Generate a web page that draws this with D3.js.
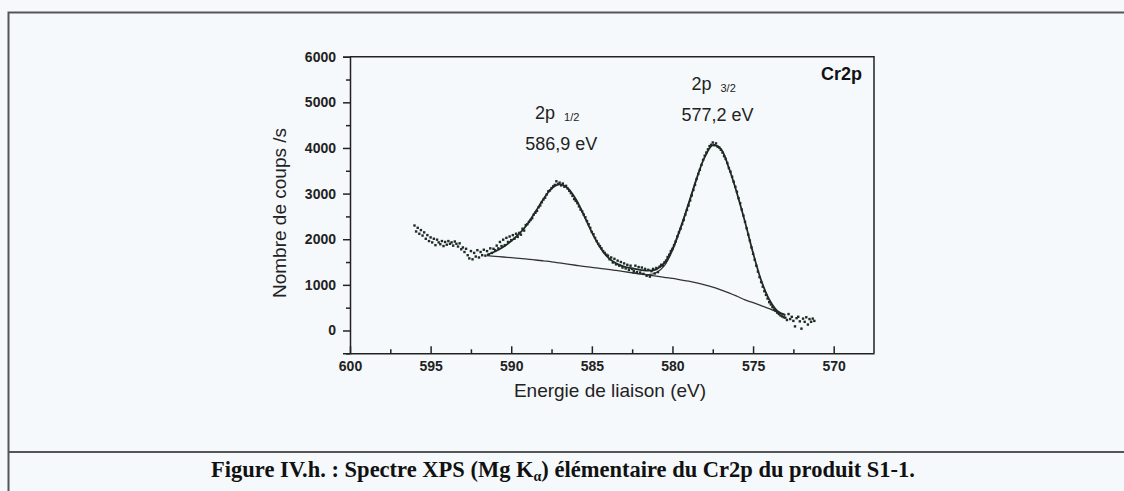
<!DOCTYPE html>
<html>
<head>
<meta charset="utf-8">
<script src="https://cdn.jsdelivr.net/npm/d3@7"></script>
<style>
  html, body { margin: 0; padding: 0; background: #f6f9fb; }
  svg { display: block; }
</style>
</head>
<body>
<svg id="fig" width="1124" height="491"></svg>
<script>
// Cr2p XPS spectrum: measured counts on a 0.1 eV grid from 596.0 eV down to 571.2 eV
const scanStart = 596.0;
const scanStep = 0.1;
const counts = [
  2300, 2170, 2250, 2120, 2200,
  2080, 2150, 2010, 2090, 1960,
  2040, 1930, 2010, 1870, 1990,
  1930, 1890, 1960, 1850, 1940,
  1880, 1960, 1900, 1930, 1860,
  1950, 1900, 1840, 1910, 1780,
  1820, 1720, 1790, 1650, 1580,
  1740, 1560, 1700, 1620, 1760,
  1600, 1720, 1650, 1770, 1640,
  1740, 1660, 1800, 1700, 1790,
  1760, 1860, 1800, 1940, 1850,
  1990, 1870, 2030, 1940, 2060,
  1980, 2090, 2010, 2120, 2050,
  2140, 2100, 2230, 2190, 2310,
  2330, 2380, 2420, 2460, 2540,
  2580, 2620, 2700, 2740, 2810,
  2870, 2910, 2980, 3050, 3070,
  3120, 3160, 3190, 3270, 3210,
  3240, 3180, 3220, 3150, 3170,
  3110, 3060, 3010, 2950, 2880,
  2840, 2790, 2720, 2650, 2610,
  2540, 2480, 2400, 2330, 2250,
  2160, 2110, 2030, 1960, 1900,
  1850, 1800, 1740, 1700, 1660,
  1640, 1560, 1600, 1490, 1570,
  1450, 1530, 1420, 1500, 1380,
  1470, 1360, 1440, 1330, 1420,
  1350, 1300, 1420, 1280, 1390,
  1270, 1380, 1240, 1350, 1200,
  1330, 1180, 1300, 1350, 1250,
  1370, 1280, 1400, 1440, 1420,
  1490, 1530, 1610, 1660, 1740,
  1790, 1870, 1950, 2060, 2150,
  2230, 2330, 2420, 2540, 2640,
  2740, 2850, 2960, 3080, 3190,
  3320, 3430, 3520, 3630, 3740,
  3830, 3900, 3970, 4040, 4070,
  4120, 4060, 4100, 4030, 4010,
  3960, 3900, 3820, 3760, 3670,
  3560, 3480, 3370, 3260, 3150,
  3040, 2900, 2790, 2650, 2520,
  2380, 2240, 2100, 1970, 1820,
  1680, 1550, 1420, 1290, 1170,
  1060, 960, 860, 780, 700,
  620, 570, 510, 460, 430,
  390, 360, 330, 310, 290,
  280, 230, 360, 250, 300,
  210, 90, 270, 300, 200,
  40, 260, 190, 290, 130,
  250, 190, 260, 210
];
const energy = counts.map((_, i) => +(scanStart - scanStep * i).toFixed(1));

// Fit curves on a 0.5 eV grid (591.5 -> 573.0 eV)
const fitEnergy = [591.5, 591.0, 590.5, 590.0, 589.5, 589.0, 588.5, 588.0, 587.5, 587.0,
  586.5, 586.0, 585.5, 585.0, 584.5, 584.0, 583.5, 583.0, 582.5, 582.0,
  581.5, 581.0, 580.5, 580.0, 579.5, 579.0, 578.5, 578.0, 577.5, 577.0,
  576.5, 576.0, 575.5, 575.0, 574.5, 574.0, 573.5, 573.0];
const envelope = [1660, 1730, 1830, 1960, 2120, 2330, 2600, 2880, 3110, 3200,
  3120, 2880, 2530, 2150, 1830, 1600, 1470, 1400, 1360, 1330,
  1310, 1340, 1480, 1790, 2250, 2780, 3330, 3800, 4060, 3980,
  3560, 3010, 2380, 1700, 1100, 680, 430, 340];
const background = [1640, 1625, 1610, 1595, 1580, 1565, 1545, 1525, 1505, 1480,
  1455, 1430, 1405, 1385, 1360, 1340, 1315, 1290, 1265, 1240,
  1215, 1190, 1165, 1140, 1110, 1080, 1045, 1000, 950, 890,
  825, 750, 670, 610, 545, 480, 405, 330];
// 2p3/2 component (on background) where it separates from the envelope
const compEnergy = [582.5, 582.0, 581.5, 581.0, 580.5, 580.0, 579.5, 579.0, 578.5];
const comp32 = [1265, 1240, 1225, 1265, 1420, 1750, 2230, 2770, 3320];

const yTicks = [0, 1000, 2000, 3000, 4000, 5000, 6000];
const yMinor = [-500, 500, 1500, 2500, 3500, 4500, 5500];
const xTicks = [600, 595, 590, 585, 580, 575, 570];
const xMinor = [597.5, 592.5, 587.5, 582.5, 577.5, 572.5];

const peakLabels = [
  { name: "2p", sub: "1/2", energy: "586,9 eV", at: 586.9, level: 3950 },
  { name: "2p", sub: "3/2", energy: "577,2 eV", at: 577.2, level: 4600 }
];

const ink = "#222";
const svg = d3.select("#fig");

// page frame around figure and caption
svg.append("path")
  .attr("d", "M8.5,491 V12.5 H1124")
  .attr("fill", "none").attr("stroke", "#555").attr("stroke-width", 2);
svg.append("line")
  .attr("x1", 8.5).attr("x2", 1124).attr("y1", 452).attr("y2", 452)
  .attr("stroke", "#555").attr("stroke-width", 2);

const plotL = 350, plotR = 874, plotT = 56.7, plotB = 353.3;
const x = d3.scaleLinear().domain([600, 567.5]).range([plotL, plotR]);
const y = d3.scaleLinear().domain([-500, 6000]).range([plotB, plotT]);

// plot box
svg.append("path")
  .attr("d", `M${plotL},${plotT} H${plotR} V${plotB}`)
  .attr("fill", "none").attr("stroke", ink).attr("stroke-width", 1.5);

// y axis: ticks outward
svg.append("g").attr("transform", `translate(${plotL},0)`)
  .call(d3.axisLeft(y).tickValues(yTicks).tickSize(7).tickPadding(7).tickFormat(d3.format("d")));
svg.append("g").attr("transform", `translate(${plotL},0)`)
  .call(d3.axisLeft(y).tickValues(yMinor).tickSize(4).tickFormat(""))
  .call(g => g.select(".domain").remove());

// x axis: ticks inward
svg.append("g").attr("transform", `translate(0,${plotB})`)
  .call(d3.axisBottom(x).tickValues(xTicks).tickSizeInner(-7).tickSizeOuter(0).tickPadding(8).tickFormat(d3.format("d")));
svg.append("g").attr("transform", `translate(0,${plotB})`)
  .call(d3.axisBottom(x).tickValues(xMinor).tickSizeInner(-4).tickSizeOuter(0).tickFormat(""))
  .call(g => g.select(".domain").remove());

svg.selectAll(".domain").attr("stroke", ink).attr("stroke-width", 1.5);
svg.selectAll(".tick line").attr("stroke", ink).attr("stroke-width", 1.5);
svg.selectAll(".tick text")
  .attr("fill", ink)
  .style("font-family", "'Liberation Sans', Arial, sans-serif")
  .style("font-size", "14px").style("font-weight", "bold");

// axis titles
svg.append("text")
  .attr("transform", `translate(286,${(plotT + plotB) / 2 + 8}) rotate(-90)`)
  .attr("text-anchor", "middle").attr("fill", ink)
  .style("font-family", "'Liberation Sans', Arial, sans-serif").style("font-size", "19px")
  .text("Nombre de coups /s");
svg.append("text")
  .attr("x", (plotL + plotR) / 2 - 2).attr("y", 397)
  .attr("text-anchor", "middle").attr("fill", ink)
  .style("font-family", "'Liberation Sans', Arial, sans-serif").style("font-size", "19px")
  .text("Energie de liaison (eV)");

// fitted curves
const fitLine = d3.line().curve(d3.curveCatmullRom)
  .x(d => x(d[0])).y(d => y(d[1]));
svg.append("path")
  .attr("d", fitLine(fitEnergy.map((e, i) => [e, background[i]])))
  .attr("fill", "none").attr("stroke", "#333").attr("stroke-width", 1.3);
svg.append("path")
  .attr("d", fitLine(compEnergy.map((e, i) => [e, comp32[i]])))
  .attr("fill", "none").attr("stroke", "#333").attr("stroke-width", 1.3);
svg.append("path")
  .attr("d", fitLine(fitEnergy.map((e, i) => [e, envelope[i]])))
  .attr("fill", "none").attr("stroke", "#1e2a22").attr("stroke-width", 1.8);

// measured points
svg.append("g").selectAll("rect")
  .data(energy.map((e, i) => [e, counts[i]]))
  .join("rect")
  .attr("x", d => x(d[0]) - 1.2).attr("y", d => y(d[1]) - 1.2)
  .attr("width", 2.4).attr("height", 2.4)
  .attr("fill", "#1f2b24");

// peak annotations
const font = "'Liberation Sans', Arial, sans-serif";
peakLabels.forEach(p => {
  const cx = x(p.at);
  const t = svg.append("text")
    .attr("x", cx - 4).attr("y", y(p.level) - 31)
    .attr("text-anchor", "middle").attr("fill", ink)
    .style("font-family", font).style("font-size", "18px");
  t.append("tspan").text(p.name);
  t.append("tspan").attr("dx", 9).attr("dy", 2).style("font-size", "11px").text(p.sub);
  svg.append("text")
    .attr("x", cx).attr("y", y(p.level))
    .attr("text-anchor", "middle").attr("fill", ink)
    .style("font-family", font).style("font-size", "18px")
    .text(p.energy);
});

svg.append("text")
  .attr("x", 862).attr("y", 80).attr("text-anchor", "end").attr("fill", "#111")
  .style("font-family", font).style("font-size", "18px").style("font-weight", "bold")
  .text("Cr2p");

// caption
const cap = svg.append("text")
  .attr("x", 563).attr("y", 477).attr("text-anchor", "middle").attr("fill", "#111")
  .style("font-family", "'Liberation Serif', 'Times New Roman', serif")
  .style("font-size", "22.5px").style("font-weight", "bold");
cap.append("tspan").text("Figure IV.h. : Spectre XPS (Mg K");
cap.append("tspan").attr("dy", 4).style("font-size", "14px").text("α");
cap.append("tspan").attr("dy", -4).text(") élémentaire du Cr2p du produit S1-1.");
</script>
</body>
</html>
